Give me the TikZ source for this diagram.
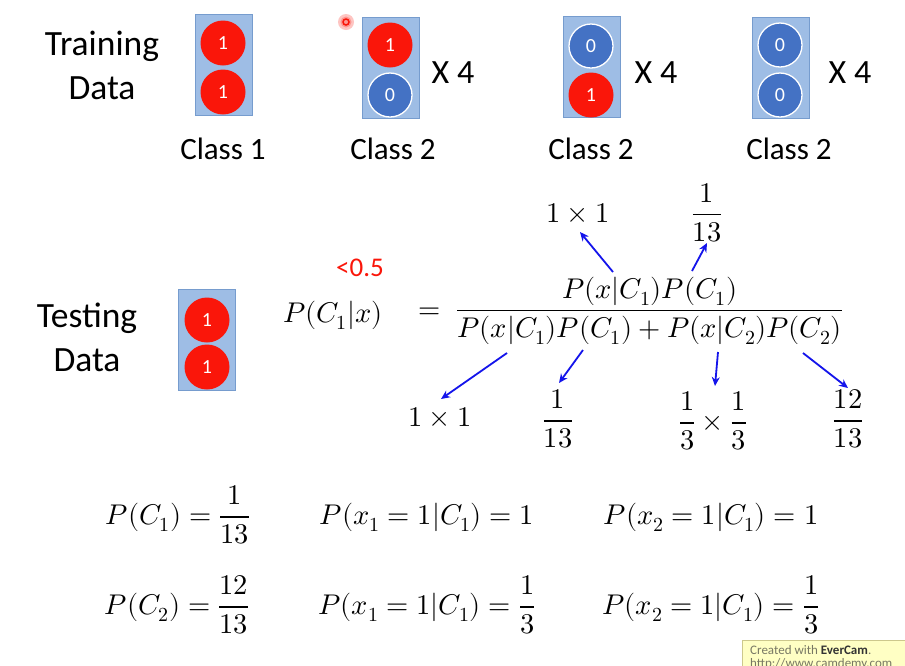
\documentclass[tikz,border=0pt]{standalone}
\usepackage{fontspec}
\usepackage{unicode-math}
\setmainfont{Carlito}
\setmathfont{Latin Modern Math}
\usetikzlibrary{arrows.meta}
\definecolor{boxfill}{RGB}{158,189,229}
\definecolor{boxline}{RGB}{118,156,206}
\definecolor{redc}{RGB}{250,22,10}
\definecolor{bluec}{RGB}{68,114,196}
\definecolor{arrowc}{RGB}{20,20,235}
\definecolor{wmfill}{RGB}{255,255,196}
\definecolor{wmline}{RGB}{205,200,140}
\definecolor{wmtext}{RGB}{120,120,100}
\tikzset{
  lbl/.style={inner sep=0, font=\fontsize{35.5}{40}\selectfont},
  cls/.style={inner sep=0, font=\fontsize{31}{34}\selectfont},
  xfour/.style={inner sep=0, font=\fontsize{34}{38}\selectfont},
  databox/.style={draw=boxline, fill=boxfill, line width=1pt, minimum width=57pt, minimum height=101pt, inner sep=0},
  onec/.style={circle, fill=redc, minimum size=45pt, inner sep=0, text=white, font=\fontsize{20}{20}\selectfont},
  zeroc/.style={circle, fill=bluec, draw=white, line width=1.3pt, minimum size=44pt, inner sep=0, text=white, font=\fontsize{20}{20}\selectfont},
  mth/.style={inner sep=0, font=\fontsize{28.5}{33}\selectfont},
  arr/.style={-{Stealth[length=9pt,width=8pt]}, draw=arrowc, line width=1.8pt},
}
\begin{document}
\begin{tikzpicture}[x=1pt,y=-1pt]
\path[use as bounding box] (0,0) rectangle (905,665);
\clip (0,0) rectangle (905,665);
\fill[white] (0,0) rectangle (905,665);

% Training data
\node[lbl] (tr1) at (102,46) {Training};
\node[lbl] (tr2) at (102,88) {Data};

\node[databox] (b1) at (224,64.5) {};
\node[onec] (b1a) at (223,43) {1};
\node[onec] (b1b) at (223,92) {1};
\node[cls] (c1) at (223,149) {Class 1};

\node[databox] (b2) at (391,67.5) {};
\node[onec] (b2a) at (390,45) {1};
\node[zeroc] (b2b) at (390,95) {0};
\node[xfour] (x2) at (453,73) {X 4};
\node[cls] (c2) at (393,149) {Class 2};

\node[databox] (b3) at (592,66.5) {};
\node[zeroc] (b3a) at (591,46) {0};
\node[onec] (b3b) at (591,95) {1};
\node[xfour] (x3) at (656,73) {X 4};
\node[cls] (c3) at (591,149) {Class 2};

\node[databox] (b4) at (781,67.5) {};
\node[zeroc] (b4a) at (780,45) {0};
\node[zeroc] (b4b) at (780,95) {0};
\node[xfour] (x4) at (850,73) {X 4};
\node[cls] (c4) at (789,149) {Class 2};

% cursor mark
\fill[redc!25] (346,22) circle (8);
\fill[redc!45] (346,22) circle (5.5);
\draw[redc, line width=1.5pt] (346,22) circle (3);

% Testing data
\node[lbl] (te1) at (87,318) {Testing};
\node[lbl] (te2) at (87,360) {Data};
\node[databox] (bt) at (207,340) {};
\node[onec] (bta) at (207,320) {1};
\node[onec] (btb) at (207,367) {1};

% Bayes formula
\node[inner sep=0, text=redc, font=\fontsize{27}{30}\selectfont] (lt) at (360,268) {<0.5};
\node[mth] (post) at (333,315) {$P(C_1|x)$};
\node[mth, anchor=west] (frac) at (418,311) {$=\;\dfrac{P(x|C_1)P(C_1)}{P(x|C_1)P(C_1)+P(x|C_2)P(C_2)}$};

\node[mth] (t11) at (578,213) {$1\times1$};
\node[mth] (t113) at (707,213) {$\dfrac{1}{13}$};
\node[mth] (d11) at (440,417) {$1\times1$};
\node[mth] (d113) at (558,419) {$\dfrac{1}{13}$};
\node[mth] (d33) at (713,421) {$\dfrac{1}{3}\times\dfrac{1}{3}$};
\node[mth] (d1213) at (848,419) {$\dfrac{12}{13}$};

\coordinate (s1) at (613,272);
\coordinate (e1) at (580,232);
\coordinate (s2) at (692,271);
\coordinate (e2) at (707,243);
\coordinate (s3) at (507,353);
\coordinate (e3) at (441,399);
\coordinate (s4) at (583,350);
\coordinate (e4) at (559,383);
\coordinate (s5) at (718,352);
\coordinate (e5) at (715,386);
\coordinate (s6) at (803,353);
\coordinate (e6) at (848,388);
\draw[arr] (s1) -- (e1);
\draw[arr] (s2) -- (e2);
\draw[arr] (s3) -- (e3);
\draw[arr] (s4) -- (e4);
\draw[arr] (s5) -- (e5);
\draw[arr] (s6) -- (e6);

% bottom equations
\node[mth] (pc1) at (178,515) {$P(C_1)=\dfrac{1}{13}$};
\node[mth] (px1) at (427,517) {$P(x_1=1|C_1)=1$};
\node[mth] (px2) at (711,517) {$P(x_2=1|C_1)=1$};
\node[mth] (pc2) at (177,605) {$P(C_2)=\dfrac{12}{13}$};
\node[mth] (px3) at (427,605) {$P(x_1=1|C_1)=\dfrac{1}{3}$};
\node[mth] (px4) at (711,605) {$P(x_2=1|C_1)=\dfrac{1}{3}$};

% watermark
\draw[fill=wmfill, draw=wmline] (742,640) rectangle (910,670);
\node[anchor=west, inner sep=0, text=wmtext, font=\fontsize{13}{14}\selectfont] (wm1) at (750,650) {Created with \textbf{\textcolor{black!80}{EverCam}}.};
\node[anchor=west, inner sep=0, text=wmtext, font=\fontsize{13}{14}\selectfont] (wm2) at (750,664) {http://www.camdemy.com};
\end{tikzpicture}
\end{document}
